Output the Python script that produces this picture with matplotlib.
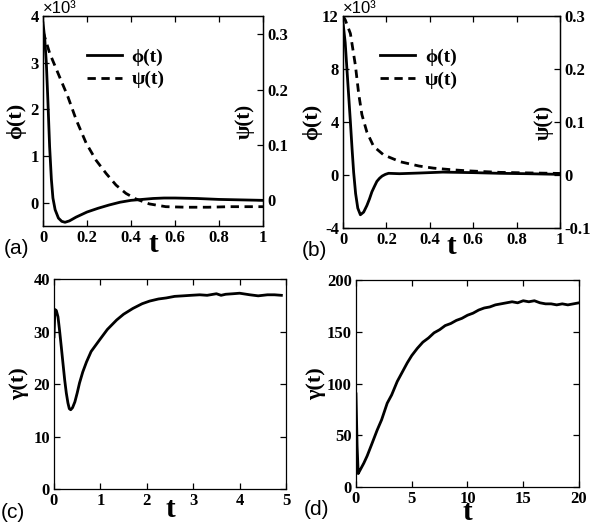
import matplotlib
matplotlib.use('Agg')
import matplotlib.pyplot as plt
import matplotlib.ticker as ticker

serif = ['Liberation Serif', 'DejaVu Serif']
sans = ['Liberation Sans', 'DejaVu Sans']
matplotlib.rcParams.update({'font.family': serif, 'font.weight': 'bold',
                            'axes.linewidth': 0.9})

#%% data
# (a) phi in units of 10^3
t_phi_a = [0, 0.008, 0.015, 0.022, 0.03, 0.038, 0.045, 0.055, 0.07, 0.085, 0.1, 0.12,
           0.15, 0.2, 0.25, 0.3, 0.35, 0.4, 0.45, 0.5, 0.55, 0.6, 0.7, 0.8, 0.9, 1.0]
phi_a = [3.85, 3.5, 3.0, 2.2, 1.2, 0.5, 0.1, -0.15, -0.33, -0.4, -0.42, -0.39,
         -0.31, -0.2, -0.12, -0.05, 0.01, 0.05, 0.07, 0.09, 0.1, 0.1, 0.09, 0.07, 0.06, 0.05]
t_psi_a = [0, 0.03, 0.075, 0.113, 0.151, 0.196, 0.241, 0.287, 0.332, 0.377, 0.422,
           0.483, 0.558, 0.65, 0.75, 0.85, 1.0]
psi_a = [0.305, 0.266, 0.223, 0.187, 0.145, 0.103, 0.072, 0.048, 0.027, 0.012, 0.002,
         -0.007, -0.012, -0.013, -0.013, -0.012, -0.012]

# (b) phi in units of 10^3
t_phi_b = [0, 0.01, 0.018, 0.026, 0.034, 0.042, 0.049, 0.058, 0.068, 0.08, 0.095, 0.11,
           0.122, 0.133, 0.145, 0.156, 0.168, 0.18, 0.195, 0.21, 0.26, 0.35, 0.46, 0.6,
           0.72, 0.85, 1.0]
phi_b = [11.5, 10.0, 8.0, 6.0, 4.0, 1.9, 0.2, -1.4, -2.5, -3.0, -2.8, -2.3,
         -1.8, -1.27, -0.85, -0.48, -0.25, -0.08, 0.05, 0.13, 0.1, 0.15, 0.22, 0.18,
         0.13, 0.1, 0.05]
t_psi_b = [0, 0.01, 0.034, 0.057, 0.072, 0.087, 0.11, 0.141, 0.187, 0.264, 0.35, 0.417,
           0.5, 0.57, 0.724, 0.85, 1.0]
psi_b = [0.3, 0.293, 0.267, 0.207, 0.154, 0.114, 0.081, 0.054, 0.038, 0.025, 0.017, 0.013,
         0.01, 0.008, 0.005, 0.004, 0.003]

# (c)
t_c = [0, 0.02, 0.05, 0.086, 0.12, 0.158, 0.195, 0.23, 0.265, 0.3, 0.33, 0.36, 0.4, 0.45,
       0.5, 0.55, 0.62, 0.7, 0.8, 0.99, 1.15, 1.35, 1.5, 1.7, 1.9, 2.06, 2.25, 2.42, 2.6,
       2.78, 2.95, 3.14, 3.3, 3.5, 3.6, 3.7, 3.86, 4.0, 4.22, 4.4, 4.6, 4.75, 4.9]
gamma_c = [29, 34.2, 34, 32.8, 30.2, 27, 23.8, 20.8, 18.3, 16.4, 15.3, 15.1, 15.5, 16.6,
           18.3, 20.2, 22.3, 24.2, 26.2, 28.5, 30.4, 32.2, 33.3, 34.4, 35.3, 35.8, 36.2,
           36.4, 36.7, 36.8, 36.9, 37.0, 36.9, 37.2, 36.9, 37.1, 37.2, 37.3, 37.0, 36.8,
           37.0, 37.0, 36.9]

# (d)
t_d = [0, 0.1, 0.2, 0.4, 0.7, 1.0, 1.4, 1.9, 2.3, 2.8, 3.2, 3.7, 4.1, 4.6, 5.0, 5.5,
       6.0, 6.5, 7.0, 7.5, 8.0, 8.5, 9.0, 9.5, 10.0, 10.5, 11.0, 11.5, 12.0, 12.5, 13.0,
       13.5, 14.0, 14.5, 15.0, 15.5, 16.0, 16.5, 17.0, 17.5, 18.0, 18.5, 19.0, 19.5, 20.0]
gamma_d = [90, 40, 13, 17, 23, 30, 41, 55, 65, 81, 89, 102, 110, 120, 127, 134,
           140, 144, 149, 152, 156, 158, 161, 163, 166, 168, 171, 173, 174, 176, 177,
           178, 179, 178, 180, 179, 180, 178, 177, 177, 176, 177, 176, 177, 178]

#%% helpers
fmt = ticker.FuncFormatter(lambda v, p: '%g' % v)


def style(ax, right=True):
    ax.tick_params(which='major', direction='in', length=4, width=0.9,
                   top=True, right=right, labelsize=12, pad=3)
    ax.xaxis.set_major_formatter(fmt)
    ax.yaxis.set_major_formatter(fmt)


fig = plt.figure(figsize=(6.0, 5.26), dpi=100)

axes_pos = [[0.0717, 0.5703, 0.3667, 0.3993],
            [0.5717, 0.5665, 0.3617, 0.4030],
            [0.0900, 0.0703, 0.3867, 0.3992],
            [0.5933, 0.0741, 0.3717, 0.3935]]

lw = 2.0
dash = (0, (3.0, 2.0))

#%% (a) and (b)
top_data = [(t_phi_a, phi_a, t_psi_a, psi_a, (-0.5, 4), [0, 1, 2, 3, 4],
             (-0.047, 0.333), [0, 0.1, 0.2, 0.3], -0.077, 0.87, -0.024, '(a)', (0.12, 0.93)),
            (t_phi_b, phi_b, t_psi_b, psi_b, (-4, 12), [-4, 0, 4, 8, 12],
             (-0.1, 0.3), [-0.1, 0, 0.1, 0.2, 0.3], -0.097, 0.88, -0.025, '(b)', (0.09, 0.93))]

for ind, (tp, ph, ts, ps, ylim, yt, ylim2, yt2, ylx, y2x, xly, lab, lpos) in enumerate(top_data):
    ax = fig.add_axes(axes_pos[ind])
    ax2 = ax.twinx()
    l1, = ax.plot(tp, ph, color='black', lw=lw, label='\u03d5(t)')
    l2, = ax2.plot(ts, ps, color='black', lw=lw, ls=dash, label='\u03c8(t)')
    ax.set_xlim(0, 1)
    ax.set_ylim(*ylim)
    ax.set_xticks([0, 0.2, 0.4, 0.6, 0.8, 1])
    ax.set_yticks(yt)
    ax2.set_ylim(*ylim2)
    ax2.set_yticks(yt2)
    style(ax, right=False)
    style(ax2)
    ax2.tick_params(top=False)
    ax.set_ylabel('\u03d5(t)', fontsize=16, fontweight='bold')
    ax.yaxis.set_label_coords(ylx, 0.5)
    ax2.set_ylabel('\u03c8(t)', fontsize=15, fontweight='bold')
    ax2.yaxis.set_label_coords(y2x, 0.5)
    ax.set_xlabel('t', fontsize=21, fontweight='bold', va='top')
    ax.xaxis.set_label_coords(0.5, xly)
    ax.text(0.0, 1.0, '\u00d710\u00b3', transform=ax.transAxes, fontsize=12,
            family=sans, fontweight='normal', ha='left', va='bottom')
    ax.legend(handles=[l1, l2], loc='upper left', bbox_to_anchor=lpos,
              frameon=False, handlelength=1.8, handletextpad=0.5,
              labelspacing=0.25, prop={'family': serif, 'weight': 'bold', 'size': 14})
    ax.text(-0.18 if ind == 0 else -0.19, -0.06, lab, transform=ax.transAxes,
            fontsize=15, family=sans, fontweight='normal', ha='left', va='top')

#%% (c) and (d)
bot_data = [(t_c, gamma_c, (0, 5), [0, 1, 2, 3, 4, 5], (0, 40), [0, 10, 20, 30, 40],
             -0.108, -0.033, '(c)', -0.23),
            (t_d, gamma_d, (0, 20), [0, 5, 10, 15, 20], (0, 200), [0, 50, 100, 150, 200],
             -0.135, -0.06, '(d)', -0.235)]

for ind, (t, g, xlim, xt, ylim, yt, ylx, xly, lab, labx) in enumerate(bot_data):
    ax = fig.add_axes(axes_pos[ind + 2])
    ax.plot(t, g, color='black', lw=lw)
    ax.set_xlim(*xlim)
    ax.set_ylim(*ylim)
    ax.set_xticks(xt)
    ax.set_yticks(yt)
    style(ax)
    ax.set_ylabel('\u03b3(t)', fontsize=16, fontweight='bold')
    ax.yaxis.set_label_coords(ylx, 0.5)
    ax.set_xlabel('t', fontsize=21, fontweight='bold', va='top')
    ax.xaxis.set_label_coords(0.5, xly)
    ax.text(labx, -0.065, lab, transform=ax.transAxes,
            fontsize=15, family=sans, fontweight='normal', ha='left', va='top')

fig.savefig('out.png', dpi=100)
